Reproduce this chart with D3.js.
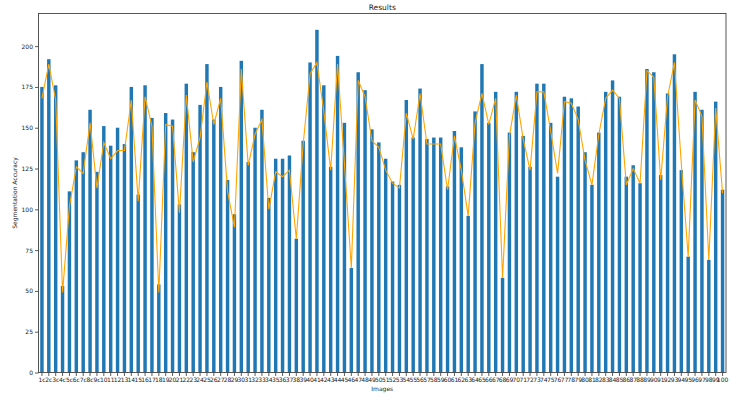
<!DOCTYPE html>
<html>
<head>
<meta charset="utf-8">
<script src="https://cdn.jsdelivr.net/npm/d3@7"></script>
<style>
  body { margin: 0; background: #fff; }
  svg { display: block; font-family: "DejaVu Sans", sans-serif; }
</style>
</head>
<body>
<svg></svg>
<script>
const width = 750;
const height = 404;
const marginLeft = 38.5;
const marginRight = 24;
const marginTop = 13.5;
const marginBottom = 31.5;

// подписи по оси ОХ
const labels = ["1c","2c","3c","4c","5c","6c","7c","8c","9c"]
    .concat(d3.range(10, 101).map(String));

// высота столбцов
const accuracy = [
    175, 192, 176, 53, 111, 130, 135, 161, 123, 151,
    139, 150, 140, 175, 109, 176, 156, 54, 159, 155,
    103, 177, 135, 164, 189, 155, 175, 118, 97, 191,
    129, 150, 161, 107, 131, 131, 133, 82, 142, 190,
    210, 176, 126, 194, 153, 64, 184, 173, 149, 141,
    131, 117, 115, 167, 144, 174, 143, 144, 144, 114,
    148, 138, 96, 160, 189, 153, 172, 58, 147, 172,
    145, 126, 177, 177, 153, 120, 169, 168, 163, 135,
    115, 147, 172, 179, 169, 120, 127, 116, 186, 184,
    121, 171, 195, 124, 71, 172, 161, 69, 166, 112
];

// оранжевая линия
const lineValues = [
    168, 189, 167, 49, 102, 126, 122, 153, 113, 141,
    131, 136, 136, 167, 105, 169, 151, 49, 152, 151,
    98, 170, 129, 144, 178, 152, 168, 111, 89, 186,
    127, 146, 155, 100, 123, 120, 124, 82, 140, 183,
    190, 160, 124, 189, 128, 64, 179, 169, 142, 138,
    124, 116, 113, 159, 143, 171, 140, 140, 140, 112,
    145, 124, 96, 153, 171, 152, 168, 58, 145, 170,
    143, 124, 172, 172, 148, 122, 166, 165, 155, 130,
    115, 146, 168, 173, 168, 115, 125, 116, 185, 181,
    118, 169, 190, 128, 71, 167, 157, 69, 162, 110
];

const yTicks = [0, 25, 50, 75, 100, 125, 150, 175, 200];

let svg = d3.select("svg")
    .attr("width", width)
    .attr("height", height);

const plotW = width - marginLeft - marginRight;
const plotH = height - marginTop - marginBottom;

let scX = d3.scaleBand()
    .domain(labels)
    .range([0, plotW])
    .paddingInner(0.5)
    .paddingOuter(0.25);

let scY = d3.scaleLinear()
    .domain([0, 220])
    .range([plotH, 0]);

let g = svg.append("g")
    .attr("transform", `translate(${marginLeft}, ${marginTop})`);

// столбцы
g.selectAll(".bar")
    .data(accuracy)
    .enter()
    .append("rect")
    .attr("class", "bar")
    .attr("x", (d, i) => scX(labels[i]))
    .attr("y", d => scY(d))
    .attr("width", scX.bandwidth())
    .attr("height", d => plotH - scY(d))
    .style("fill", "#1f77b4");

// линия
let line = d3.line()
    .x((d, i) => scX(labels[i]) + scX.bandwidth() / 2)
    .y(d => scY(d));

g.append("path")
    .datum(lineValues)
    .attr("d", line)
    .style("fill", "none")
    .style("stroke", "orange")
    .style("stroke-width", 1.1);

// оси
let axisX = d3.axisBottom(scX).tickSizeInner(3.5).tickSizeOuter(0).tickPadding(1.5);
let axisY = d3.axisLeft(scY).tickValues(yTicks).tickSizeInner(3.5).tickSizeOuter(0).tickPadding(2);

let gx = g.append("g")
    .attr("transform", `translate(0, ${plotH})`)
    .call(axisX);
gx.select(".domain").remove();
gx.selectAll("line").attr("stroke", "#333").attr("stroke-width", 0.8);
gx.selectAll("text")
    .style("font-size", "6px")
    .style("fill", "#222")
    .style("font-family", "DejaVu Sans");

let gy = g.append("g").call(axisY);
gy.select(".domain").remove();
gy.selectAll("line").attr("stroke", "#333").attr("stroke-width", 0.8);
gy.selectAll("text")
    .style("font-size", "6px")
    .style("fill", "#222")
    .style("font-family", "DejaVu Sans");

// рамка
g.append("rect")
    .attr("width", plotW)
    .attr("height", plotH)
    .style("fill", "none")
    .style("stroke", "#444")
    .style("stroke-width", 0.9);

// подписи
svg.append("text")
    .attr("x", marginLeft + plotW / 2)
    .attr("y", marginTop - 4)
    .attr("text-anchor", "middle")
    .style("font-size", "7.5px")
    .style("fill", "#222")
    .text("Results");

svg.append("text")
    .attr("x", marginLeft + plotW / 2)
    .attr("y", height - 13)
    .attr("text-anchor", "middle")
    .style("font-size", "6px")
    .style("fill", "#222")
    .text("Images");

svg.append("text")
    .attr("transform", `translate(17, ${marginTop + plotH / 2}) rotate(-90)`)
    .attr("text-anchor", "middle")
    .style("font-size", "6px")
    .style("fill", "#222")
    .text("Segmentation Accuracy");
</script>
</body>
</html>
